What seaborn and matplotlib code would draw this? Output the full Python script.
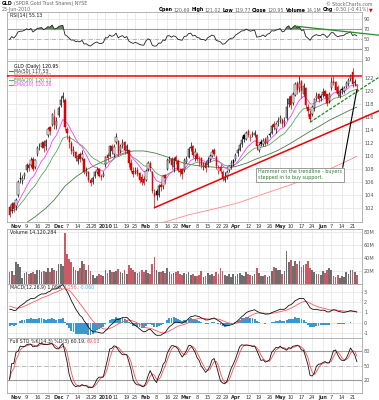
import matplotlib
matplotlib.use("Agg")
import matplotlib.pyplot as plt
from matplotlib.lines import Line2D
import numpy as np
import pandas as pd
import seaborn as sns

W, H = 379, 400

HOLIDAYS = ["2009-11-26", "2009-12-25", "2010-01-01", "2010-01-18",
            "2010-02-15", "2010-04-02", "2010-05-31"]

# daily GLD candles, Oct 28 2009 .. Jun 23 2010 (one row per week)
opens = [
    102.2, 101.6, 102.8,
    102.3, 104.0, 106.6, 106.2, 106.9,
    107.9, 108.7, 108.6, 109.6, 108.4,
    110.4, 111.6, 111.4, 112.2, 111.5,
    113.2, 114.4, 114.8, 116.0,
    114.6, 116.3, 117.8, 118.9, 118.6,
    114.2, 113.0, 112.0, 110.5, 110.6,
    109.3, 110.3, 109.7, 109.5, 107.4,
    107.5, 106.3, 106.0, 107.0,
    107.6, 108.0, 106.9, 107.0,
    108.6, 110.2, 110.0, 111.6, 110.4,
    112.1, 112.3, 110.8, 111.7, 112.2,
    110.8, 110.9, 108.9, 107.8,
    107.6, 107.9, 107.4, 106.8, 106.5,
    106.4, 108.0, 109.0, 107.6, 104.4,
    104.6, 104.0, 105.5, 105.4, 107.1,
    108.1, 109.3, 109.6, 108.4,
    109.9, 109.3, 107.7, 108.0, 107.9,
    109.1, 109.9, 111.2, 111.6, 110.0,
    110.3, 109.3, 109.7, 108.4, 109.0,
    108.7, 109.6, 110.1, 111.0, 109.9,
    107.7, 108.4, 107.6, 106.3, 106.9,
    107.9, 108.6, 109.4, 109.5,
    110.5, 111.0, 111.8, 113.2, 112.7,
    113.9, 112.8, 113.2, 113.3, 113.2,
    111.0, 112.2, 111.8, 112.6, 112.0,
    113.4, 113.6, 114.9, 114.2, 115.2,
    115.5, 115.6, 115.1, 115.8, 118.0,
    119.2, 118.1, 119.4, 121.3, 120.4,
    121.5, 119.6, 120.4, 117.5, 116.5,
    116.4, 117.4, 118.9, 119.6, 119.2,
    119.4, 120.0, 119.5, 118.5,
    120.4, 121.6, 121.4, 120.6, 119.2,
    120.3, 120.0, 120.6, 121.0, 121.8,
    122.9, 121.3, 120.69,
]
highs = [
    102.5, 102.9, 103.0,
    103.6, 106.3, 107.5, 107.1, 107.6,
    108.9, 109.0, 109.8, 109.9, 109.6,
    111.6, 112.0, 112.4, 112.5, 112.6,
    114.4, 114.6, 116.6, 117.2,
    116.0, 117.7, 119.3, 119.8, 118.9,
    114.5, 113.3, 112.4, 111.5, 110.8,
    110.3, 110.6, 111.0, 109.7, 108.3,
    107.8, 106.7, 107.0, 107.8,
    108.3, 108.2, 107.3, 107.7,
    110.0, 110.5, 111.7, 111.9, 111.8,
    113.5, 112.5, 111.8, 112.6, 112.4,
    111.9, 111.0, 109.6, 108.4,
    108.3, 108.4, 107.5, 107.2, 107.0,
    108.0, 109.2, 109.3, 107.7, 105.0,
    104.9, 105.7, 105.9, 107.1, 107.3,
    109.7, 110.0, 109.8, 109.9,
    110.2, 109.5, 108.2, 108.2, 109.7,
    110.0, 111.4, 112.1, 111.7, 111.2,
    110.6, 110.0, 109.8, 109.1, 109.2,
    109.8, 110.4, 111.1, 111.3, 110.2,
    108.6, 108.8, 107.9, 107.6, 107.9,
    108.7, 109.4, 109.6, 110.5,
    111.3, 112.0, 113.1, 113.4, 113.9,
    114.1, 113.4, 113.9, 114.0, 113.4,
    112.0, 112.6, 112.8, 112.9, 113.2,
    113.7, 115.0, 115.4, 115.2, 116.0,
    116.3, 115.9, 116.0, 119.0, 119.3,
    119.4, 119.8, 121.4, 121.6, 122.3,
    121.7, 121.2, 120.6, 118.0, 117.1,
    117.9, 119.0, 119.8, 119.7, 119.6,
    120.4, 120.2, 119.6, 119.9,
    122.1, 122.3, 121.5, 120.9, 120.3,
    120.8, 120.7, 121.6, 122.0, 122.6,
    123.5, 121.8, 121.02,
]
lows = [
    100.6, 101.3, 101.5,
    101.8, 103.8, 105.9, 105.8, 106.5,
    107.6, 107.7, 108.3, 107.7, 108.1,
    110.1, 110.9, 111.2, 110.7, 110.9,
    112.9, 113.3, 114.6, 114.1,
    114.2, 116.0, 117.5, 118.3, 114.0,
    112.6, 111.3, 110.3, 110.1, 109.2,
    108.8, 109.1, 109.4, 107.2, 106.9,
    106.1, 105.4, 105.7, 106.7,
    107.3, 106.8, 106.3, 106.8,
    108.3, 109.2, 109.8, 110.4, 109.8,
    111.9, 110.1, 110.5, 111.3, 110.4,
    110.5, 108.4, 107.5, 106.8,
    107.2, 106.9, 105.9, 105.5, 105.6,
    106.2, 107.7, 107.8, 104.3, 102.1,
    103.2, 103.8, 104.6, 105.0, 105.7,
    107.9, 108.9, 108.1, 107.6,
    108.8, 107.5, 107.0, 106.5, 107.6,
    108.9, 109.7, 110.8, 109.7, 109.3,
    109.2, 108.5, 108.2, 107.9, 107.6,
    108.3, 109.1, 109.8, 110.0, 108.1,
    107.2, 107.4, 106.2, 106.0, 106.5,
    107.6, 108.1, 108.5, 109.2,
    110.1, 110.8, 111.4, 112.1, 112.5,
    113.0, 112.3, 112.9, 112.9, 110.9,
    110.6, 111.5, 111.5, 111.5, 111.8,
    112.9, 113.4, 114.0, 113.6, 114.7,
    115.1, 114.5, 114.7, 115.5, 117.6,
    117.2, 117.9, 119.3, 119.6, 119.9,
    118.9, 119.2, 117.4, 116.2, 115.2,
    116.2, 117.0, 118.5, 118.3, 118.5,
    119.1, 118.9, 117.7, 118.2,
    120.2, 120.9, 119.8, 119.1, 118.9,
    119.6, 119.7, 120.4, 120.7, 121.5,
    120.6, 120.8, 119.77,
]
closes = [
    101.0, 102.6, 101.9,
    103.3, 106.0, 106.5, 106.6, 107.3,
    108.6, 108.2, 109.4, 108.0, 109.4,
    111.2, 111.5, 112.0, 111.2, 112.3,
    114.1, 113.9, 116.4, 114.8,
    115.4, 117.4, 118.6, 119.2, 114.5,
    113.6, 112.2, 110.8, 110.9, 109.7,
    110.0, 109.5, 110.4, 107.6, 107.8,
    106.4, 105.9, 106.7, 107.5,
    107.9, 107.0, 106.8, 107.3,
    109.8, 109.7, 111.5, 110.8, 111.4,
    112.9, 110.5, 111.5, 112.0, 110.9,
    111.6, 108.9, 107.9, 107.3,
    107.8, 107.3, 106.4, 106.0, 105.9,
    107.8, 108.9, 108.2, 104.6, 103.9,
    104.1, 105.4, 105.3, 106.9, 106.6,
    109.4, 109.5, 108.7, 109.6,
    109.2, 107.9, 107.5, 107.3, 109.4,
    109.5, 111.1, 111.4, 110.2, 110.6,
    109.6, 109.4, 108.6, 108.7, 108.2,
    109.4, 110.0, 110.7, 110.4, 108.5,
    108.2, 107.8, 106.6, 106.8, 107.6,
    108.5, 108.9, 109.0, 110.2,
    110.9, 111.7, 112.5, 112.6, 113.6,
    113.3, 113.0, 113.4, 113.6, 111.5,
    111.7, 111.9, 112.4, 111.9, 112.9,
    113.2, 114.6, 114.5, 114.9, 115.4,
    115.8, 115.0, 115.4, 117.6, 118.8,
    117.8, 119.5, 121.0, 120.2, 121.3,
    120.0, 120.7, 117.9, 116.9, 115.7,
    117.6, 118.7, 119.3, 118.8, 118.9,
    119.8, 119.3, 118.2, 119.5,
    121.4, 121.3, 120.2, 119.5, 120.0,
    120.1, 120.4, 121.3, 121.7, 122.3,
    121.0, 121.45, 120.95,
]
# volume in millions of shares
volumes_m = [
    19, 20, 14,
    34, 30, 26, 9, 17,
    18, 16, 17, 18, 15,
    21, 22, 18, 20, 19,
    24, 18, 25, 22,
    20, 31, 30, 28, 79,
    46, 39, 34, 26, 22,
    20, 24, 36, 31, 21,
    29, 20, 14, 9,
    12, 16, 14, 13,
    21, 17, 21, 19, 18,
    20, 23, 18, 17, 22,
    16, 29, 25, 22,
    18, 17, 19, 21, 18,
    22, 17, 15, 30, 41,
    22, 19, 18, 20, 17,
    24, 18, 16, 17,
    18, 20, 15, 14, 17,
    16, 18, 14, 15, 12,
    13, 14, 20, 11, 13,
    17, 14, 15, 12, 18,
    16, 25, 20, 14, 12,
    15, 11, 16, 13,
    15, 17, 14, 13, 18,
    16, 14, 12, 15, 25,
    17, 13, 12, 14, 11,
    12, 20, 26, 24, 22,
    21, 15, 20, 51, 34,
    37, 28, 36, 31, 36,
    26, 29, 30, 36, 25,
    21, 18, 16, 15, 14,
    20, 17, 22, 24,
    21, 12, 10, 14, 9,
    13, 11, 18, 15, 21,
    21, 18, 14.12,
]
PREV_CLOSE = 102.3  # Oct 27 close, colours the first candle

ma50_dates = ["2009-10-28", "2009-10-30", "2009-11-06", "2009-11-13", "2009-11-20",
              "2009-11-27", "2009-12-04", "2009-12-11", "2009-12-18", "2009-12-24",
              "2009-12-31", "2010-01-08", "2010-01-15", "2010-01-22", "2010-01-29",
              "2010-02-05", "2010-02-12", "2010-02-19", "2010-02-26", "2010-03-05",
              "2010-03-12", "2010-03-19", "2010-03-26", "2010-04-01", "2010-04-09",
              "2010-04-16", "2010-04-23", "2010-04-30", "2010-05-07", "2010-05-14",
              "2010-05-21", "2010-05-28", "2010-06-04", "2010-06-11", "2010-06-18",
              "2010-06-23"]
ma50_values = [98.3, 98.6, 99.6, 100.7, 102.0, 103.3, 105.4, 106.8, 107.9, 108.6,
               109.2, 109.9, 110.5, 110.8, 110.8, 110.5, 110.0, 109.5, 108.9, 108.6,
               108.4, 108.3, 108.2, 108.4, 108.9, 109.6, 110.2, 110.9, 111.8, 112.8,
               113.8, 114.7, 115.5, 116.3, 117.1, 117.53]
ma200_dates = ["2009-10-28", "2009-11-27", "2009-12-24", "2010-01-22", "2010-02-16",
               "2010-03-02", "2010-03-18", "2010-04-06", "2010-04-22", "2010-05-07",
               "2010-05-21", "2010-06-04", "2010-06-18", "2010-06-23"]
ma200_values = [95.2, 96.5, 97.8, 98.9, 100.0, 101.0, 101.9, 102.9, 104.3, 105.5,
                106.7, 108.0, 109.5, 110.0]

# indicator starting states (values before the first visible day)
EMA10_SEED, EMA20_SEED = 102.0, 101.6
EMA12_SEED, EMA26_SEED, SIGNAL_SEED = 101.9, 100.4, 1.7
RSI_GAIN_SEED, RSI_LOSS_SEED = 0.45, 0.47

# hand-drawn trendlines: anchor dates and values
resistance_level = 122.3
support_dates, support_values = ["2010-02-05", "2010-06-23"], [102.1, 115.5]
hammer_dates, hammer_values = ["2010-05-21", "2010-06-23"], [115.2, 119.9]
rsi_trend_dates, rsi_trend_values = ["2010-05-12", "2010-06-21"], [76.0, 63.5]

tick_dates = ["2009-11-02", "2009-11-09", "2009-11-16", "2009-11-23", "2009-12-01",
              "2009-12-07", "2009-12-14", "2009-12-21", "2009-12-28", "2010-01-04",
              "2010-01-11", "2010-01-19", "2010-01-25", "2010-02-01", "2010-02-08",
              "2010-02-16", "2010-02-22", "2010-03-01", "2010-03-08", "2010-03-15",
              "2010-03-22", "2010-03-29", "2010-04-01", "2010-04-12", "2010-04-19",
              "2010-04-26", "2010-05-03", "2010-05-10", "2010-05-17", "2010-05-24",
              "2010-06-01", "2010-06-07", "2010-06-14", "2010-06-21"]
tick_labels = ["Nov", "9", "16", "23", "Dec", "7", "14", "21", "28", "2010",
               "11", "19", "25", "Feb", "8", "16", "22", "Mar", "8", "15",
               "22", "29", "Apr", "12", "19", "26", "May", "10", "17", "24",
               "Jun", "7", "14", "21"]
MONTH_LABELS = {"Nov", "Dec", "2010", "Feb", "Mar", "Apr", "May", "Jun"}
# labels that sit right before a month label are pushed left of their tick
CROWDED = {8, 21}

NOTE = "Hammer on the trendline - buyers\nstepped in to buy support."

RED, BLACK = "#e00000", "#000000"
GRID = "#e3e3e3"
XMIN, XMAX = -1.2, 165.4


def ema(values, span, seed):
    alpha = 2.0 / (span + 1)
    out, prev = [], seed
    for v in values:
        prev = prev + alpha * (v - prev)
        out.append(prev)
    return np.array(out)


def wilder_rsi(values, n, gain, loss):
    out = [100 - 100 / (1 + gain / loss)]
    for a, b in zip(values[:-1], values[1:]):
        d = b - a
        gain = (gain * (n - 1) + max(d, 0)) / n
        loss = (loss * (n - 1) + max(-d, 0)) / n
        out.append(100 - 100 / (1 + gain / loss))
    return np.array(out)


def px_axes(fig, top, bottom):
    return fig.add_axes([7 / W, 1 - bottom / H, (362 - 7) / W, (bottom - top) / H])


def style(ax, ylim, yticks, ylabels):
    ax.set_xlim(XMIN, XMAX)
    ax.set_ylim(*ylim)
    ax.set_yticks(yticks)
    ax.set_yticklabels(ylabels)
    ax.yaxis.tick_right()
    ax.set_xticks(tick_pos)
    ax.tick_params(axis="both", length=0, labelsize=3.6, colors="#555555", pad=1.5)
    ax.tick_params(axis="x", labelbottom=False)
    ax.grid(True, color=GRID, lw=0.5)
    ax.set_axisbelow(True)
    ax.set_xlabel("")
    ax.set_ylabel("")
    for s in ax.spines.values():
        s.set_color("#a8a8a8")
        s.set_linewidth(0.6)


def date_labels(ax):
    ax.tick_params(axis="x", labelbottom=True)
    ax.set_xticklabels(tick_labels)
    for k, lab in enumerate(ax.get_xticklabels()):
        lab.set_color("#333333")
        if lab.get_text() in MONTH_LABELS:
            lab.set_fontweight("bold")
        if k in CROWDED:
            lab.set_horizontalalignment("right")


def text_run(fig, x, y, pieces, size=3.4, align="left"):
    r = fig.canvas.get_renderer()
    made = []
    for s, color, weight in pieces:
        t = fig.text(0, 1 - y / H, s, fontsize=size, color=color,
                     fontweight=weight, va="center", ha="left")
        made.append((t, t.get_window_extent(r).width))
    gap = 1.2
    total = sum(w for _, w in made) + gap * (len(made) - 1)
    if align == "right":
        x -= total
    for t, w in made:
        t.set_x(x / W)
        x += w + gap


def extend(xs, ys, x_end):
    slope = (ys[1] - ys[0]) / (xs[1] - xs[0])
    return [xs[0], x_end], [ys[0], ys[1] + slope * (x_end - xs[1])]


# ---- data frame ----
days = pd.bdate_range("2009-10-28", "2010-06-23")
days = days[~days.isin(pd.to_datetime(HOLIDAYS))]
for name, arr in [("open", opens), ("high", highs), ("low", lows),
                  ("close", closes), ("volume", volumes_m)]:
    assert len(arr) == len(days), (name, len(arr), len(days))
pos = {d: i for i, d in enumerate(days)}


def to_x(dates):
    return [pos[pd.Timestamp(d)] for d in dates]


tick_pos = to_x(tick_dates)

df = pd.DataFrame({"x": np.arange(len(days)), "open": opens, "high": highs,
                   "low": lows, "close": closes, "volume": np.array(volumes_m) * 1e6})
df["prev"] = [PREV_CLOSE] + closes[:-1]
df["ema10"] = ema(closes, 10, EMA10_SEED)
df["ema20"] = ema(closes, 20, EMA20_SEED)
df["macd"] = ema(closes, 12, EMA12_SEED) - ema(closes, 26, EMA26_SEED)
df["signal"] = ema(df["macd"], 9, SIGNAL_SEED)
df["hist"] = df["macd"] - df["signal"]
df["rsi"] = wilder_rsi(closes, 14, RSI_GAIN_SEED, RSI_LOSS_SEED)
hh = df["high"].rolling(14, min_periods=1).max()
ll = df["low"].rolling(14, min_periods=1).min()
fast_k = 100 * (df["close"] - ll) / (hh - ll)
df["full_k"] = fast_k.rolling(3, min_periods=1).mean()
df["full_d"] = df["full_k"].rolling(3, min_periods=1).mean()

ma50 = pd.DataFrame({"x": to_x(ma50_dates), "v": ma50_values})
ma200 = pd.DataFrame({"x": to_x(ma200_dates), "v": ma200_values})

# ---- figure ----
sns.set_theme(style="white")
plt.rcParams["font.family"] = ["DejaVu Sans"]
fig = plt.figure(figsize=(W / 100, H / 100), dpi=100)
fig.patch.set_facecolor("white")

ax_rsi = px_axes(fig, 12, 61)
ax_px = px_axes(fig, 61, 222)
ax_vol = px_axes(fig, 229, 284)
ax_macd = px_axes(fig, 284, 338)
ax_sto = px_axes(fig, 338, 393)

# RSI
style(ax_rsi, (5.9, 104.4), [90, 70, 50, 30, 10], ["90", "70", "50", "30", "10"])
ax_rsi.grid(False, axis="y")
for lvl in (90, 10):
    ax_rsi.axhline(lvl, color=GRID, lw=0.5, zorder=0)
for lvl in (70, 30):
    ax_rsi.axhline(lvl, color="#9a9a9a", lw=0.8, zorder=1)
ax_rsi.axhline(50, color="#9a9a9a", lw=0.5, ls="-.", zorder=1)
ax_rsi.fill_between(df["x"], df["rsi"], 70, where=df["rsi"] > 70,
                    interpolate=True, color="#5c8f5c", lw=0, zorder=2)
sns.lineplot(data=df, x="x", y="rsi", ax=ax_rsi, color="#222222", lw=0.6, zorder=3)
rx, ry = extend(to_x(rsi_trend_dates), rsi_trend_values, 178)
ax_rsi.plot(rx, ry, color="#2a8a2a", lw=0.9, clip_on=False, zorder=4)
ax_rsi.set_xlabel("")
ax_rsi.set_ylabel("")

# price
style(ax_px, (99.9, 124.6), list(range(102, 123, 2)), [str(v) for v in range(102, 123, 2)])
date_labels(ax_px)
sns.lineplot(data=ma200, x="x", y="v", ax=ax_px, color="#ff8a8a", lw=0.6, zorder=2)
sns.lineplot(data=ma50, x="x", y="v", ax=ax_px, color="#4a7a4a", lw=0.6, zorder=2)
sns.lineplot(data=df, x="x", y="ema20", ax=ax_px, color="#5aa65a", lw=0.6, zorder=2)
sns.lineplot(data=df, x="x", y="ema10", ax=ax_px, color="#ff3cff", lw=0.6, zorder=2)
col = np.where(df["close"] >= df["prev"], BLACK, RED)
face = np.where(df["close"] > df["open"], "white", col)
ax_px.vlines(df["x"], df["low"], df["high"], colors=col, lw=0.5, zorder=3)
ax_px.bar(df["x"], np.maximum((df["close"] - df["open"]).abs(), 0.06),
          bottom=np.minimum(df["open"], df["close"]), width=0.62,
          color=face, edgecolor=col, linewidth=0.35, zorder=4)
ax_px.axhline(resistance_level, color="#f00000", lw=1.1, zorder=5)
sx, sy = extend(to_x(support_dates), support_values, 178)
ax_px.plot(sx, sy, color="#f00000", lw=1.1, clip_on=False, zorder=5)
hx, hy = extend(to_x(hammer_dates), hammer_values, 178)
ax_px.plot(hx, hy, color="#1f8a1f", lw=0.9, ls=(0, (2.5, 1.2)), clip_on=False, zorder=5)
ax_px.annotate(NOTE, xy=(163, 120.2), xytext=(136.3, 107.15), textcoords="data",
               ha="center", va="center", multialignment="left", fontsize=3.5,
               color="#2c7f2c",
               bbox=dict(boxstyle="square,pad=0.35", fc="white", ec="#8a8a8a", lw=0.6),
               arrowprops=dict(arrowstyle="-", color="black", lw=0.8,
                               relpos=(1.0, 0.8), shrinkA=0, shrinkB=0),
               zorder=6)
ax_px.set_xlabel("")
ax_px.set_ylabel("")

# volume
style(ax_vol, (0, 84.6e6), [20e6, 40e6, 60e6, 80e6], ["20M", "40M", "60M", "80M"])
vcol = np.where(df["close"] >= df["prev"], "#6e6e6e", "#cc5a66")
ax_vol.bar(df["x"], df["volume"], width=0.8, color=vcol, lw=0, zorder=2)

# MACD
style(ax_macd, (-1.49, 3.78), [3, 2, 1, 0, -1], ["3", "2", "1", "0", "-1"])
ax_macd.bar(df["x"], df["hist"], width=0.9, color="#3d97cf", lw=0, zorder=2)
sns.lineplot(data=df, x="x", y="signal", ax=ax_macd, color="#ff5a5a", lw=0.6, zorder=3)
sns.lineplot(data=df, x="x", y="macd", ax=ax_macd, color="#111111", lw=0.6, zorder=4)
ax_macd.set_xlabel("")
ax_macd.set_ylabel("")

# full stochastics
style(ax_sto, (-6.9, 106.9), [80, 50, 20], ["80", "50", "20"])
ax_sto.grid(False, axis="y")
for lvl in (80, 20):
    ax_sto.axhline(lvl, color="#9a9a9a", lw=0.8, zorder=1)
ax_sto.axhline(50, color="#9a9a9a", lw=0.5, ls="-.", zorder=1)
sns.lineplot(data=df, x="x", y="full_d", ax=ax_sto, color="#ff4a4a", lw=0.6, zorder=3)
sns.lineplot(data=df, x="x", y="full_k", ax=ax_sto, color="#111111", lw=0.6, zorder=4)
ax_sto.set_xlabel("")
ax_sto.set_ylabel("")
date_labels(ax_sto)

# ---- texts ----
GRAY, DARK = "#666666", "#222222"
text_run(fig, 2, 3.5, [("GLD", BLACK, "bold"), ("(SPDR Gold Trust Shares) NYSE", GRAY, "normal")])
text_run(fig, 2, 9, [("23-Jun-2010", GRAY, "normal")])
text_run(fig, 373, 4.5, [("© StockCharts.com", GRAY, "normal")], align="right")
text_run(fig, 373, 10, [("Open", BLACK, "bold"), ("120.69", GRAY, "normal"),
                        ("High", BLACK, "bold"), ("121.02", GRAY, "normal"),
                        ("Low", BLACK, "bold"), ("119.77", GRAY, "normal"),
                        ("Close", BLACK, "bold"), ("120.95", GRAY, "normal"),
                        ("Volume", BLACK, "bold"), ("14.1M", GRAY, "normal"),
                        ("Chg", BLACK, "bold"), ("-0.50 (-0.41%)", GRAY, "normal"),
                        ("▼", RED, "normal")], align="right")
text_run(fig, 10, 15.5, [("RSI(14) 55.13", DARK, "normal")])

legend = [("GLD (Daily) 120.95", BLACK, None),
          ("MA(50) 117.53", "#333333", "#4a7a4a"),
          ("MA(200) 108.37", "#ff6a6a", "#ff8a8a"),
          ("EMA(20) 120.11", "#3f8f3f", "#5aa65a"),
          ("EMA(10) 120.26", "#ff3cff", "#ff3cff")]
for k, (label, tcolor, lcolor) in enumerate(legend):
    yy = 66.5 + 4.6 * k
    if lcolor:
        fig.add_artist(Line2D([9 / W, 13 / W], [1 - yy / H, 1 - yy / H],
                              color=lcolor, lw=0.8))
    text_run(fig, 14, yy, [(label, tcolor, "normal")], size=3.3)

text_run(fig, 10, 232.5, [("Volume 14,120,284", DARK, "normal")])
text_run(fig, 10, 287.5, [("MACD(12,26,9) 1.096,", DARK, "normal"),
                          ("1.156,", "#ff5a5a", "normal"),
                          ("-0.060", "#5aaedc", "normal")])
text_run(fig, 10, 341.5, [("Full STO %K(14,3) %D(3) 60.19,", DARK, "normal"),
                          ("69.03", "#ff4a4a", "normal")])

fig.savefig("out.png", dpi=100, facecolor="white")
